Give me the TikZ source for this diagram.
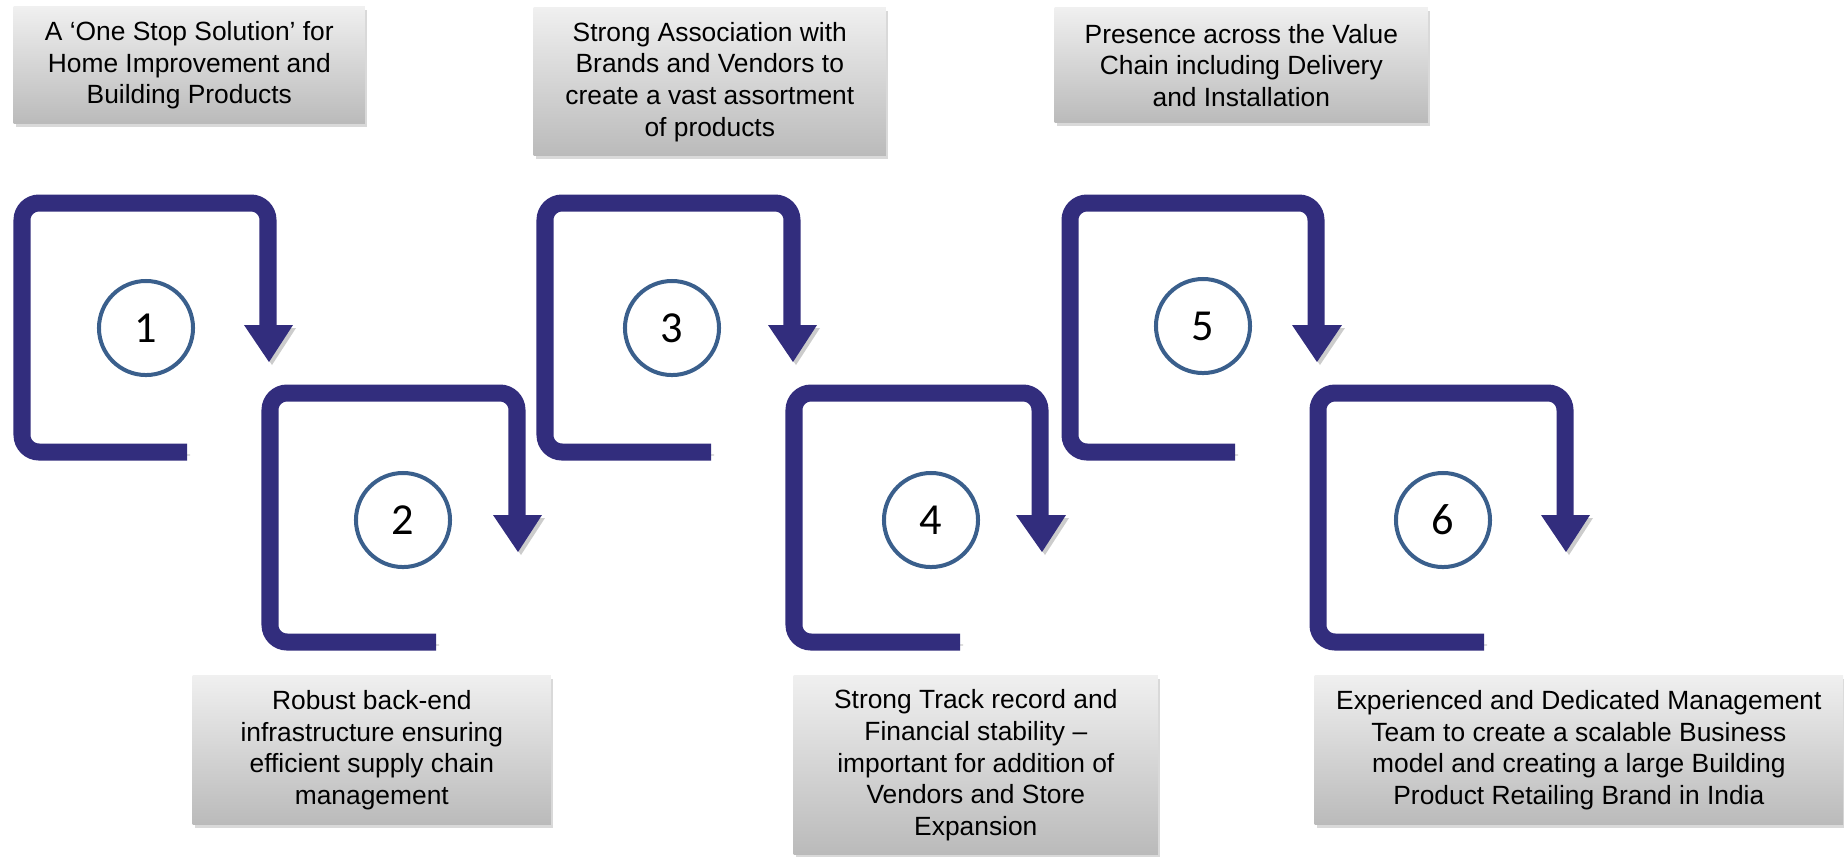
\documentclass[tikz,border=0pt]{standalone}
\usepackage{fontspec}
\setmainfont{Liberation Sans}
\newfontfamily\numfont{Carlito}
\usetikzlibrary{shadows}
\definecolor{loopnavy}{RGB}{50,45,125}
\definecolor{ringblue}{RGB}{58,95,140}
\tikzset{
  looparrow/.style={draw=loopnavy, line width=0.17cm, rounded corners=0.17cm,
    preaction={draw=black, opacity=0.2, transform canvas={shift={(3,3)}}}},
  arrowhead/.style={fill=loopnavy,
    preaction={fill=black, opacity=0.2, transform canvas={shift={(3,3)}}}},
  numring/.style={shape=circle, draw=ringblue, line width=0.04cm, fill=white, inner sep=0pt,
    minimum size=0.94cm, font=\numfont\fontsize{12.6}{15}\selectfont},
  infobox/.style={anchor=north west, top color=black!6, bottom color=black!27, inner sep=0pt,
    align=center, font=\fontsize{7.5}{9}\selectfont,
    drop shadow={shadow xshift=0.02cm, shadow yshift=-0.03cm, opacity=0.3}}
}
\begin{document}
\begin{tikzpicture}[x=0.01cm, y=-0.01cm]
\useasboundingbox (0,0) rectangle (1844,856);
% top boxes
\node[infobox, minimum width=3.51cm, minimum height=1.17cm] (b1) at (13,6) {A ‘One Stop Solution’ for\\Home Improvement and\\Building Products};
\node[infobox, minimum width=3.52cm, minimum height=1.48cm] (b3) at (533,7) {Strong Association with\\Brands and Vendors to\\create a vast assortment\\of products};
\node[infobox, minimum width=3.73cm, minimum height=1.15cm] (b5) at (1054,7) {Presence across the Value\\Chain including Delivery\\and Installation};
% bottom boxes
\node[infobox, minimum width=3.58cm, minimum height=1.49cm] (b2) at (192,675) {Robust back-end\\infrastructure ensuring\\efficient supply chain\\management};
\node[infobox, minimum width=3.64cm, minimum height=1.79cm] (b4) at (793,675) {Strong Track record and\\Financial stability –\\important for addition of\\Vendors and Store\\Expansion};
\node[infobox, minimum width=5.28cm, minimum height=1.49cm] (b6) at (1314,675) {Experienced and Dedicated Management\\Team to create a scalable Business\\model and creating a large Building\\Product Retailing Brand in India};
% loops
\draw[looparrow] (187,452) -- (22,452) -- (22,203) -- (268,203) -- (268,325);
\fill[arrowhead] (244,325) -- (293,325) -- (269,362) -- cycle;
\draw[looparrow] (436,642) -- (270,642) -- (270,393) -- (517,393) -- (517,515);
\fill[arrowhead] (493,515) -- (542,515) -- (518,552) -- cycle;
\draw[looparrow] (711,452) -- (545,452) -- (545,203) -- (792,203) -- (792,325);
\fill[arrowhead] (768,325) -- (817,325) -- (793,362) -- cycle;
\draw[looparrow] (960,642) -- (794,642) -- (794,393) -- (1040,393) -- (1040,515);
\fill[arrowhead] (1016,515) -- (1066,515) -- (1042,552) -- cycle;
\draw[looparrow] (1235,452) -- (1070,452) -- (1070,203) -- (1316,203) -- (1316,325);
\fill[arrowhead] (1292,325) -- (1342,325) -- (1317,362) -- cycle;
\draw[looparrow] (1484,642) -- (1318,642) -- (1318,393) -- (1565,393) -- (1565,515);
\fill[arrowhead] (1541,515) -- (1590,515) -- (1566,552) -- cycle;
% numbers
\node[numring] (c1) at (146,328) {1};
\node[numring] (c2) at (403,520) {2};
\node[numring] (c3) at (672,328) {3};
\node[numring] (c4) at (931,520) {4};
\node[numring] (c5) at (1203,326) {5};
\node[numring] (c6) at (1443,520) {6};
\end{tikzpicture}
\end{document}
